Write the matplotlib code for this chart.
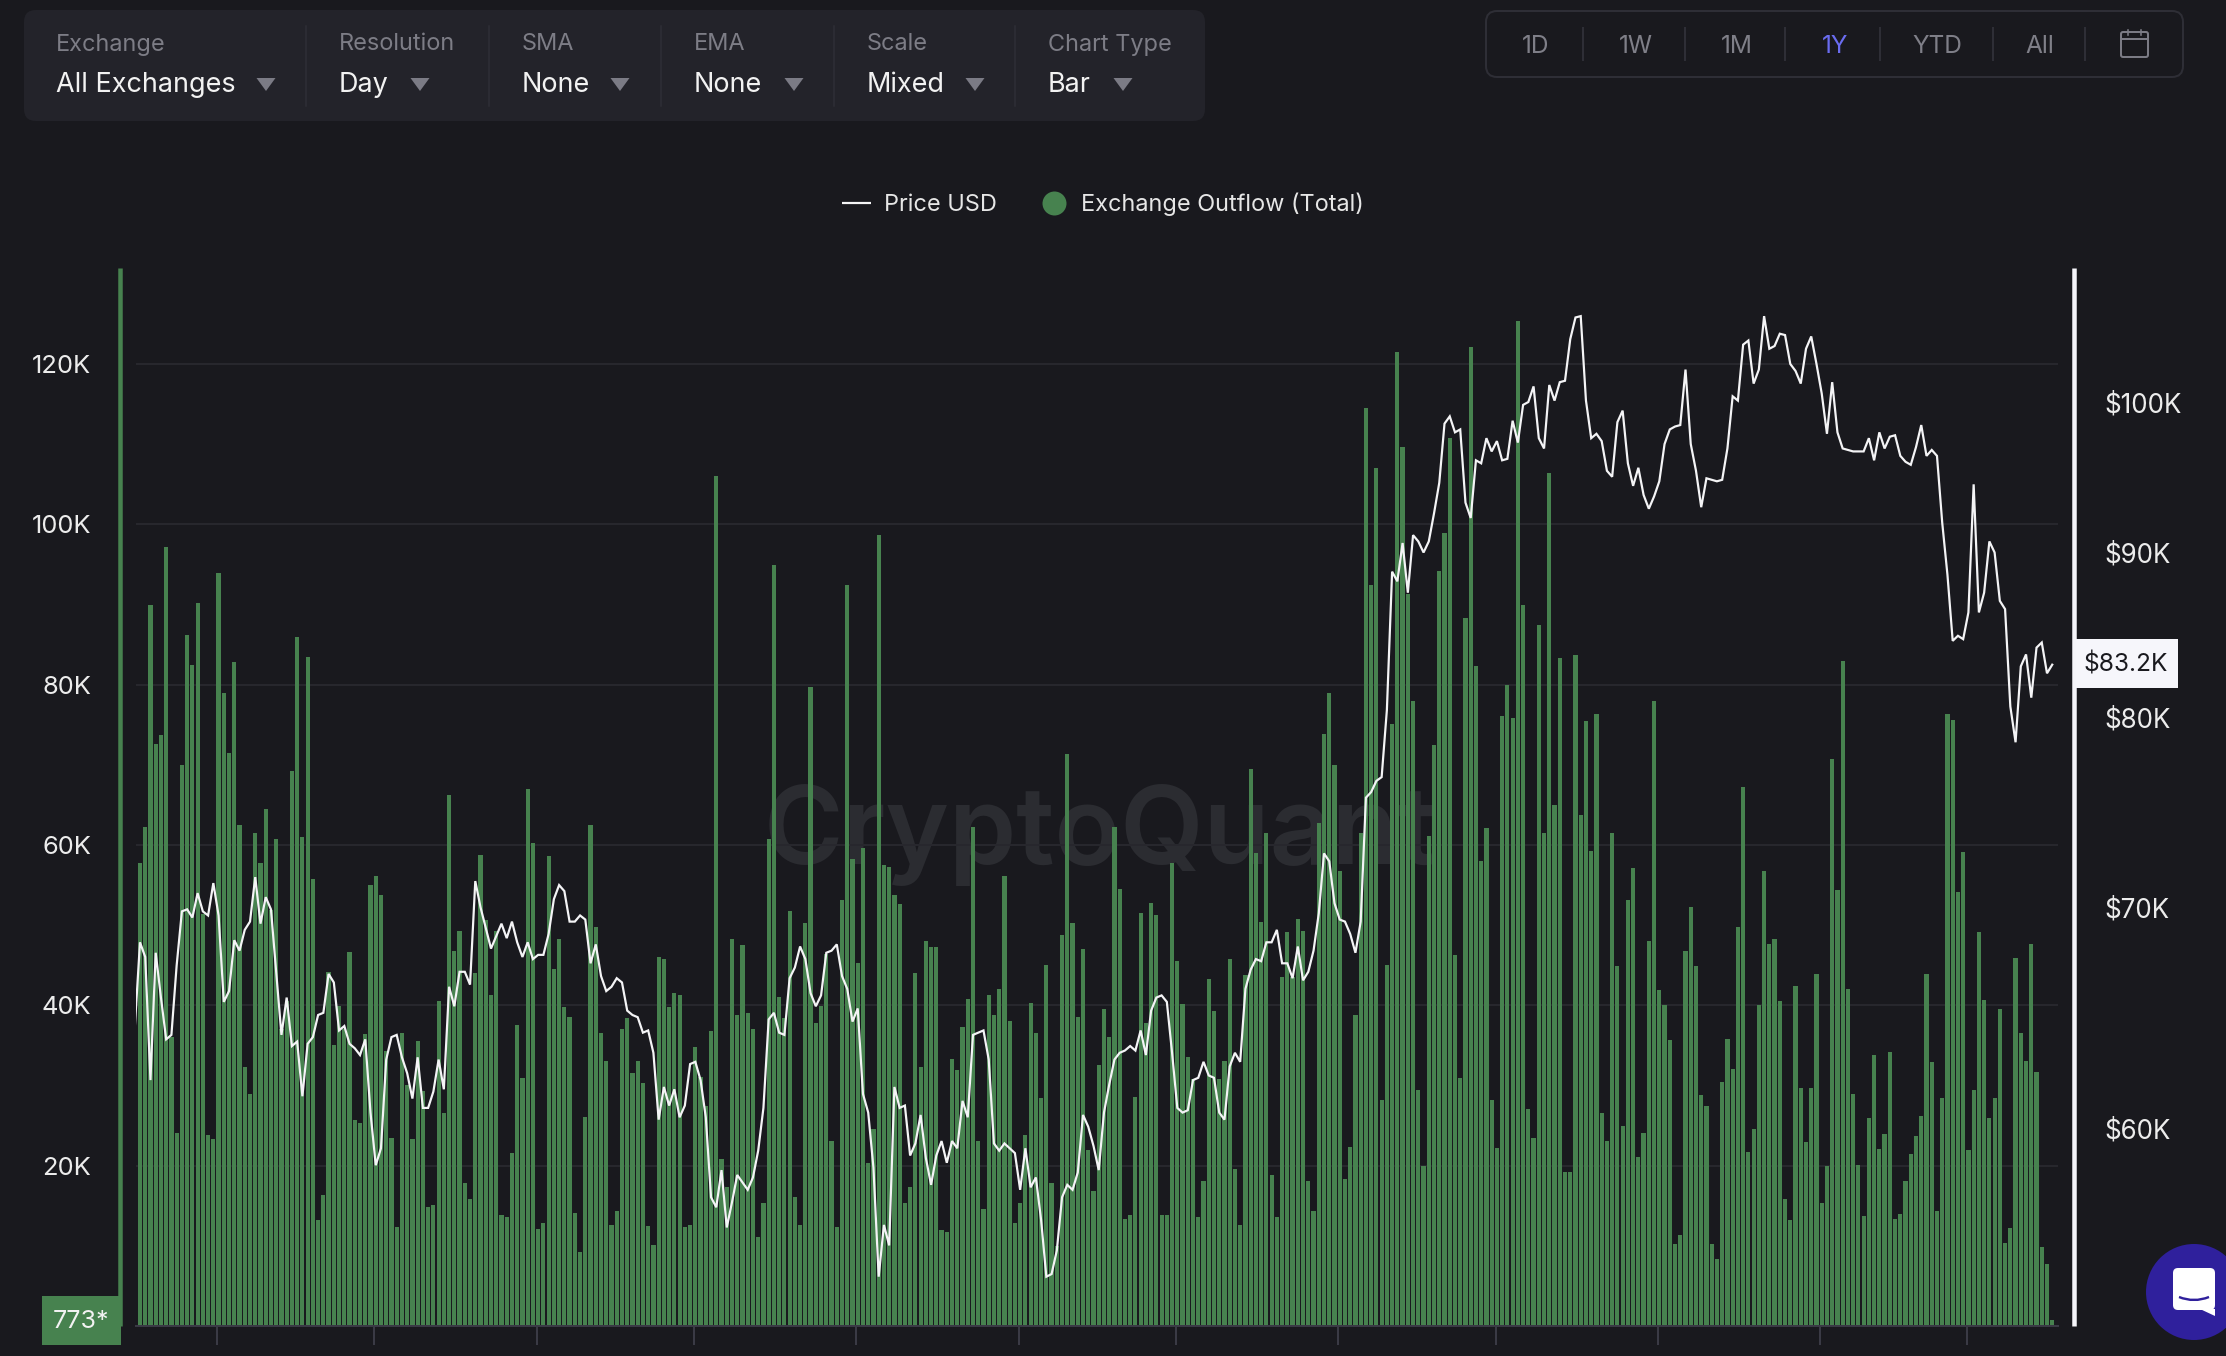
import matplotlib
matplotlib.use("Agg")
import matplotlib.pyplot as plt
import numpy as np
from matplotlib.lines import Line2D
from matplotlib.patches import FancyBboxPatch, Circle, Polygon, PathPatch, Rectangle
from matplotlib.path import Path
from matplotlib.ticker import FuncFormatter, FixedLocator, NullLocator
from matplotlib.transforms import ScaledTranslation

plt.rcParams['font.family'] = ['Inter', 'DejaVu Sans']

# ---------- data ----------
# Exchange Outflow (Total), thousands, one value per day
outflow_k = [
57.8,62.3,90.0,72.6,73.7,97.2,36.0,24.1,70.0,86.2,82.5,90.2,51.4,23.8,23.3,93.9,79.0,71.5,82.8,62.5,
32.3,29.0,61.5,57.8,64.5,51.9,60.8,37.1,40.5,69.2,86.0,61.0,83.5,55.8,13.2,16.4,44.2,35.1,39.9,37.1,
46.6,25.7,25.3,36.4,55.0,56.1,53.8,34.3,23.5,12.4,36.6,30.1,23.3,35.6,29.3,14.8,15.1,40.5,26.6,66.3,
46.8,49.3,17.9,15.9,44.0,58.8,50.6,41.3,49.3,13.9,13.6,21.6,37.6,30.9,67.0,60.3,12.1,12.8,58.7,44.5,
48.3,39.8,38.6,14.1,9.2,26.1,62.5,49.8,36.6,33.1,12.6,14.4,37.1,38.4,31.6,33.1,30.3,12.5,10.1,46.1,
45.8,39.8,41.5,41.3,12.4,12.6,34.8,31.1,27.4,36.8,106.0,20.8,17.3,48.3,38.8,47.5,39.1,37.1,11.1,15.4,
60.8,95.0,41.1,38.4,51.8,16.1,12.6,50.3,79.7,37.8,39.9,46.4,23.1,12.4,53.1,92.5,58.3,45.3,59.6,20.3,
24.6,98.7,57.5,57.3,53.8,52.6,15.4,17.3,44.1,32.3,48.0,47.3,47.3,12.0,11.7,33.3,31.9,37.3,40.8,62.3,
23.1,14.6,41.3,38.8,42.1,56.1,38.0,12.9,15.4,23.8,40.3,36.6,28.4,45.0,17.9,10.0,48.8,71.4,50.3,38.6,
47.0,21.9,16.8,32.6,39.6,36.1,62.3,54.5,13.3,13.8,28.6,51.5,37.8,52.8,51.3,13.8,13.8,57.8,45.6,40.2,
33.6,30.8,13.6,18.1,43.3,39.3,30.8,33.1,45.8,19.6,12.6,43.8,69.5,59.0,50.4,61.5,18.9,13.6,43.6,49.1,
43.5,50.8,49.3,18.1,14.4,62.8,73.8,79.0,70.0,56.8,18.4,22.3,38.8,61.5,114.5,92.5,107.0,28.2,45.1,75.1,
121.5,109.7,91.3,78.0,29.4,19.9,61.1,72.5,94.2,99.0,110.8,46.3,30.9,88.3,122.2,82.3,58.0,62.1,28.2,22.2,
76.1,80.0,75.8,125.4,90.0,27.1,23.4,87.5,61.5,106.4,65.0,83.3,19.2,19.2,83.7,63.8,75.5,59.3,76.4,26.6,
23.1,61.5,44.9,24.9,53.1,57.1,21.1,24.1,48.0,78.0,41.9,40.1,35.7,10.2,11.4,46.8,52.3,44.9,28.8,27.4,
10.2,8.4,30.4,35.8,32.1,49.8,67.3,21.7,24.6,40.1,56.8,47.6,48.3,40.6,15.9,13.2,42.4,29.7,22.9,29.7,
43.9,15.4,19.9,70.8,54.4,83.0,42.1,28.9,20.1,13.7,25.9,33.8,22.1,24.0,34.2,13.4,14.0,18.1,21.4,23.7,
26.2,43.9,32.9,14.4,28.4,76.4,75.6,54.1,59.1,21.9,29.4,49.1,40.7,25.9,28.4,39.6,10.4,12.2,45.9,36.6,
33.1,47.6,31.7,9.9,7.7,0.773]

# Price USD, thousands; the series starts one day before the first bar
price_k = [
64.5,
68.5,67.8,62.2,68.0,65.9,64.0,64.2,67.4,70.0,70.1,69.7,70.9,70.0,69.8,71.4,69.8,65.7,66.2,68.6,68.1,
69.1,69.5,71.7,69.4,70.7,70.1,67.1,64.2,65.9,63.7,63.9,61.5,63.8,64.1,65.1,65.2,67.0,66.6,64.4,64.6,
63.8,63.6,63.3,64.0,60.8,58.6,59.3,63.1,64.1,64.2,63.2,62.5,61.4,63.2,61.0,61.0,61.7,63.1,61.8,66.4,
65.5,67.1,67.1,66.5,71.5,70.2,69.2,68.2,68.8,69.4,68.7,69.5,68.5,67.8,68.5,67.7,67.9,67.9,68.9,70.6,
71.3,71.0,69.5,69.5,69.8,69.6,67.5,68.4,66.9,66.2,66.4,66.8,66.6,65.3,65.1,65.0,64.3,64.4,63.4,60.5,
61.9,61.1,61.8,60.6,61.1,62.9,63.0,62.2,60.6,57.3,56.9,58.4,56.1,57.1,58.2,57.9,57.6,58.1,59.2,61.0,
64.9,65.2,64.3,64.2,66.8,67.3,68.3,67.7,66.1,65.5,66.0,68.0,68.1,68.4,66.9,66.3,64.8,65.4,61.6,60.8,
58.5,54.2,56.2,55.4,61.9,61.0,61.1,59.0,59.5,60.7,58.9,57.8,59.0,59.6,58.7,59.6,59.3,61.3,60.6,64.2,
64.3,64.4,63.1,59.5,59.2,59.5,59.3,59.1,57.6,59.3,57.7,58.1,56.4,54.2,54.3,55.2,57.3,57.8,57.6,58.3,
60.7,60.2,59.4,58.4,60.8,62.0,63.1,63.4,63.5,63.7,63.5,64.4,63.3,65.3,65.9,66.0,65.7,63.4,61.0,60.8,
60.9,62.2,62.3,63.0,62.4,62.3,60.8,60.5,62.8,63.4,63.0,66.3,67.2,67.7,67.6,68.5,68.5,69.1,67.5,67.5,
66.8,68.3,66.7,67.1,68.1,69.9,72.9,72.5,70.4,69.6,69.5,68.9,68.0,69.5,75.8,76.1,76.7,76.9,80.6,88.8,
88.2,90.6,87.5,91.1,90.7,90.0,90.7,92.5,94.5,98.5,99.0,97.9,98.1,93.2,92.2,96.0,95.8,97.5,96.6,97.3,
96.0,96.1,98.7,97.2,99.8,100.0,101.1,97.5,96.8,101.2,100.1,101.4,101.5,104.5,106.1,106.2,100.1,97.5,97.8,97.3,
95.3,94.9,98.6,99.4,95.8,94.3,95.5,93.7,92.8,93.6,94.6,97.1,98.1,98.3,98.4,102.3,97.1,95.3,92.9,94.8,
94.7,94.6,94.7,96.8,100.4,100.1,104.1,104.4,101.3,102.3,106.2,103.8,104.0,104.9,104.8,102.7,102.2,101.3,103.8,104.7,
102.7,100.6,97.8,101.4,97.9,96.8,96.7,96.6,96.6,96.6,97.5,96.0,97.9,96.8,97.6,97.7,96.3,95.9,95.7,96.9,
98.4,96.3,96.7,96.3,91.9,88.6,84.6,84.9,84.7,86.3,94.4,86.3,87.5,90.7,90.0,87.0,86.5,80.8,78.8,83.1,
83.8,81.3,84.2,84.5,82.7,83.2]

left_ticks_k = [20, 40, 60, 80, 100, 120]
right_ticks_k = [60, 70, 80, 90, 100]
month_ticks = [15, 45, 76, 106, 137, 168, 198, 229, 259, 290, 321, 349]

filter_labels = ["Exchange", "Resolution", "SMA", "EMA", "Scale", "Chart Type"]
filter_values = ["All Exchanges", "Day", "None", "None", "Mixed", "Bar"]
ranges = ["1D", "1W", "1M", "1Y", "YTD", "All"]
active_range = "1Y"
last_price_label = "$83.2K"
last_outflow_label = "773*"
legend_labels = ["Price USD", "Exchange Outflow (Total)"]
watermark = "CryptoQuant"

# ---------- style ----------
W, H = 2226, 1356
BG = "#19191e"
PANEL = "#23232a"
SEP = "#2e2e36"
GRID = "#27272d"
GREEN = "#47824f"
AXIS = "#3a3a45"
MUTED = "#7d7d86"
TXT = "#ececec"
px = 0.72  # points per pixel at dpi 100

fig = plt.figure(figsize=(W / 100, H / 100), dpi=100, facecolor=BG)

def frame(l, t, r, b):
    return [l / W, 1 - b / H, (r - l) / W, (b - t) / H]

# background layer (watermark)
bg = fig.add_axes([0, 0, 1, 1], zorder=0)
bg.set_xlim(0, W); bg.set_ylim(H, 0); bg.axis("off")
bg.text(1100, 835, watermark, color="#2b2c31", fontsize=108 * px, fontweight="semibold",
        ha="center", va="center")

# main plot
ax = fig.add_axes(frame(136, 268, 2058, 1326), zorder=1)
ax.patch.set_alpha(0)
days = np.arange(len(outflow_k))
bars = ax.bar(days, outflow_k, width=0.8, color=GREEN, linewidth=0, zorder=2)
ax.set_xlim(-0.76, 366.1)
ax.set_ylim(0, 132)
ax.yaxis.set_major_locator(FixedLocator(left_ticks_k))
ax.yaxis.set_major_formatter(FuncFormatter(lambda v, _: f"{v:.0f}K"))
ax.grid(axis="y", color=GRID, linewidth=2 * px, zorder=1)
ax.set_axisbelow(True)
ax.set_xticks(np.array(month_ticks) - 0.25)
ax.set_xticklabels([])
ax.tick_params(axis="x", length=19 * px, width=2 * px, color=AXIS)
ax.tick_params(axis="y", length=0, pad=29 * px, labelsize=25.5 * px, labelcolor=TXT)
for s in ("top", "right"):
    ax.spines[s].set_visible(False)
ax.spines["bottom"].set_color(AXIS)
ax.spines["bottom"].set_linewidth(2 * px)
ax.spines["left"].set_position(("outward", 16 * px))
ax.spines["left"].set_color(GREEN)
ax.spines["left"].set_linewidth(4.5 * px)
ax.spines["left"].set_capstyle("butt")

# price axis (log scale, "Mixed")
ax2 = ax.twinx()
ax2.set_zorder(2)
ax2.patch.set_alpha(0)
ax2.set_yscale("log")
ax2.set_ylim(52.36, 109.84)
ax2.yaxis.set_major_locator(FixedLocator(right_ticks_k))
ax2.yaxis.set_minor_locator(NullLocator())
ax2.yaxis.set_major_formatter(FuncFormatter(lambda v, _: f"${v:.0f}K"))
price_line, = ax2.plot(np.arange(-1, len(price_k) - 1), price_k, color="#f4f4f6",
                       linewidth=2.2 * px, solid_joinstyle="miter", zorder=5)
ax2.tick_params(axis="y", which="both", length=0, pad=30 * px, labelsize=26 * px, labelcolor=TXT)
for s in ("top", "left", "bottom"):
    ax2.spines[s].set_visible(False)
ax2.spines["right"].set_position(("outward", 16 * px))
ax2.spines["right"].set_color("#f5f5fa")
ax2.spines["right"].set_linewidth(4.5 * px)
ax2.spines["right"].set_capstyle("butt")
# the lower price labels sit a few pixels above their exact log position
fig.canvas.draw()
for tick_val, lab in zip(right_ticks_k, ax2.get_yticklabels()):
    if tick_val < 90:
        lab.set_transform(lab.get_transform() + ScaledTranslation(0, 0.035, fig.dpi_scale_trans))

# chrome layer in pixel coordinates
ui = fig.add_axes([0, 0, 1, 1], zorder=3)
ui.set_xlim(0, W); ui.set_ylim(H, 0); ui.axis("off"); ui.patch.set_alpha(0)

def rbox(l, t, r, b, rad, **kw):
    ui.add_patch(FancyBboxPatch((l + rad, t + rad), r - l - 2 * rad, b - t - 2 * rad,
                                boxstyle=f"round,pad={rad},rounding_size={rad}", **kw))

# filter panel
rbox(24, 10, 1205, 121, 12, facecolor=PANEL, edgecolor="none")
label_x = [56, 339, 522, 694, 867, 1048]
tri_x = [266, 420, 620, 794, 975, 1123]
sep_x = [306, 489, 661, 834, 1015]
for lx, tx, lab, val in zip(label_x, tri_x, filter_labels, filter_values):
    ui.text(lx, 44.5, lab, color=MUTED, fontsize=23.5 * px, ha="left", va="center")
    ui.text(lx, 84.5, val, color="#f2f2f2", fontsize=27 * px, ha="left", va="center")
    ui.add_patch(Polygon([(tx - 9.5, 78), (tx + 9.5, 78), (tx, 91)], closed=True,
                         facecolor="#7b7b85", edgecolor="none"))
for sx in sep_x:
    ui.plot([sx, sx], [26, 106], color=SEP, linewidth=1.5 * px)

# range selector
rbox(1486, 11, 2183, 77, 11, facecolor="none", edgecolor=SEP, linewidth=2 * px)
range_x = [1536, 1636, 1737, 1835, 1937, 2040]
for rx, r in zip(range_x, ranges):
    ui.text(rx, 46.5, r, color="#6a6cf0" if r == active_range else "#7f7f88",
            fontsize=24.5 * px, ha="center", va="center")
for sx in [1583, 1685, 1785, 1880, 1993, 2085]:
    ui.plot([sx, sx], [28, 60], color=SEP, linewidth=2 * px)
rbox(2121, 32, 2148, 57, 2, facecolor="none", edgecolor="#7b7b85", linewidth=2 * px)
ui.plot([2121, 2148], [39, 39], color="#7b7b85", linewidth=2 * px)
ui.plot([2128, 2128], [30, 35], color="#7b7b85", linewidth=1.6 * px)
ui.plot([2141, 2141], [30, 35], color="#7b7b85", linewidth=1.6 * px)

# legend
handles = [Line2D([], [], color="#f4f4f6", linewidth=2.2 * px, solid_capstyle="butt"),
           Line2D([], [], linestyle="none", marker="o", markersize=24 * px,
                  markerfacecolor=GREEN, markeredgecolor="none")]
leg = fig.legend(handles, legend_labels, loc="center", bbox_to_anchor=(1103 / W, 1 - 204.5 / H),
                 ncol=2, frameon=False, fontsize=23.5 * px, labelcolor="#e6e6e6",
                 handlelength=1.2, handletextpad=0.55, columnspacing=1.84, borderpad=0)
leg.set_zorder(4)

# value tags on the two axes
ui.add_patch(Rectangle((42, 1296), 79, 49, facecolor=GREEN, edgecolor="none"))
ui.text(81, 1322, last_outflow_label, color="#f2f2f2", fontsize=25 * px, ha="center", va="center")
ui.add_patch(Rectangle((2076, 639), 102, 49, facecolor="#f6f6fb", edgecolor="none"))
ui.text(2126, 665, last_price_label, color="#19191e", fontsize=24.5 * px, ha="center", va="center")

# chat bubble
ui.add_patch(Circle((2194, 1292), 48, facecolor="#2f209c", edgecolor="none"))
rbox(2173, 1268, 2215, 1310, 5, facecolor="white", edgecolor="none")
ui.add_patch(Polygon([(2200, 1309), (2215, 1309), (2215, 1316)], closed=True, facecolor="white", edgecolor="none"))
ui.add_patch(PathPatch(Path([(2179, 1297), (2194, 1303), (2209, 1297)],
                            [Path.MOVETO, Path.CURVE3, Path.CURVE3]),
                       facecolor="none", edgecolor="#2f209c", linewidth=2.4 * px))

fig.savefig("out.png", dpi=100, facecolor=BG)
